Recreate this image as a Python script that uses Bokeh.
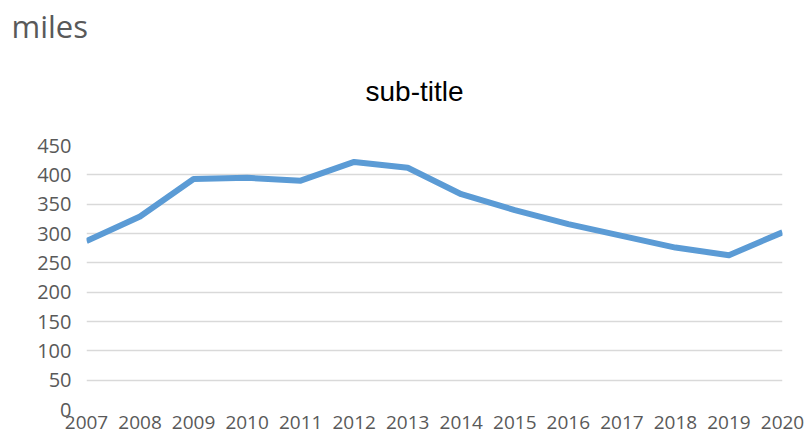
from bokeh.plotting import figure
from bokeh.models import Range1d, FixedTicker, Title
from bokeh.embed import file_html
from bokeh.resources import INLINE

years = [2007, 2008, 2009, 2010, 2011, 2012, 2013, 2014, 2015, 2016, 2017, 2018, 2019, 2020]
miles = [287, 329, 393, 395, 390, 422, 412, 367, 340, 316, 296, 276, 263, 302]
y_ticks = [0, 50, 100, 150, 200, 250, 300, 350, 400, 450]

p = figure(width=809, height=434, output_backend="svg", toolbar_location=None,
           x_range=Range1d(2007, 2020), y_range=Range1d(0, 450),
           min_border_left=86, min_border_right=27, min_border_top=145, min_border_bottom=25)
p.outline_line_color = None
p.background_fill_color = "white"
p.border_fill_color = "white"

p.title.text = "miles"
p.title.text_font = "Open Sans"
p.title.text_font_size = "31px"
p.title.text_font_style = "normal"
p.title.text_color = "#595959"
p.title.offset = -75
p.title.standoff = -24

sub = Title(text="sub-title", align="left", offset=279, standoff=78,
            text_font="Liberation Sans",
            text_font_size="28px", text_font_style="normal", text_color="#000000")
p.add_layout(sub, "above")

p.line(years, miles, line_color="#5B9BD5", line_width=6, line_join="round")

p.xaxis.ticker = FixedTicker(ticks=years)
p.yaxis.ticker = FixedTicker(ticks=y_ticks)
for ax in (p.xaxis, p.yaxis):
    ax.axis_line_color = None
    ax.major_tick_line_color = None
    ax.minor_tick_line_color = None
    ax.major_label_text_font = "Open Sans"
    ax.major_label_text_color = "#595959"
p.xaxis.major_label_text_font_size = "19px"
p.yaxis.major_label_text_font_size = "20px"
p.xaxis.major_label_standoff = 0
p.yaxis.major_label_standoff = 9

p.xgrid.grid_line_color = None
p.ygrid.grid_line_color = "#D9D9D9"
p.ygrid.grid_line_width = 1.5

open("out.html", "w").write(file_html(p, INLINE))
